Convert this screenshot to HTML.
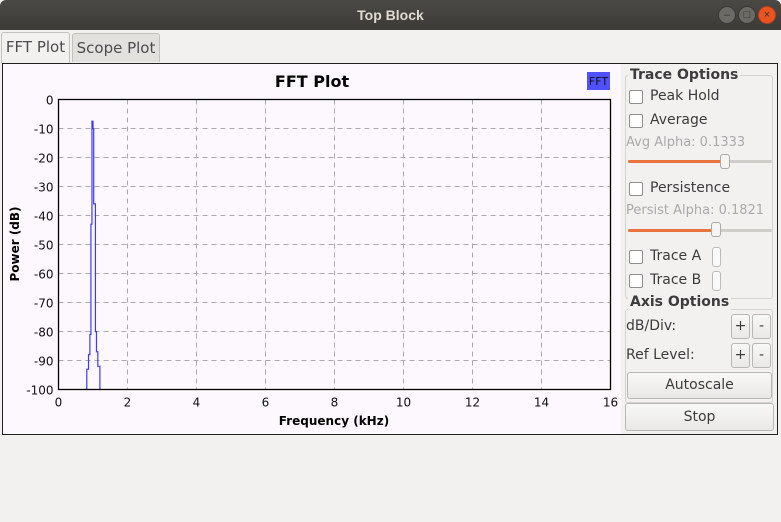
<!DOCTYPE html>
<html><head><meta charset="utf-8"><style>
*{box-sizing:border-box}
body{margin:0;width:781px;height:522px;background:#f2f1f0;font-family:"Liberation Sans","DejaVu Sans",sans-serif;position:relative;overflow:hidden}
.abs{position:absolute}
.titlebar{left:0;top:0;width:781px;height:30px;background:linear-gradient(#4a4945,#3c3b37);border-radius:6px 6px 0 0;color:#dfdbd2;font-weight:bold;font-size:14px;text-align:center;line-height:30px}
.wbtn{top:6px;width:18px;height:18px;border-radius:50%;background:#6b6a65;border:1px solid #3a3935;color:#333;font-size:11px;line-height:16px;text-align:center}
.tab{top:32px;height:30px;border:1px solid #c3c1bd;border-bottom:none;border-radius:3px 3px 0 0;font-size:15px;color:#4c4c4c;line-height:28px;text-align:center;font-family:"DejaVu Sans",sans-serif}
.panel{font-family:"DejaVu Sans",sans-serif;font-size:14px;color:#3c3c3c}
.cb{width:14px;height:14px;border:1px solid #8f8f8f;border-radius:2px;background:#fff}
.btn{border:1px solid #b9b7b3;border-radius:3px;background:linear-gradient(#f8f8f7,#e9e8e6);text-align:center;color:#3c3c3c}
.group{border:1px solid #d5d3cf;border-radius:3px}
</style></head><body>
<div class="abs titlebar">Top Block</div>
<div class="abs wbtn" style="left:718px">–</div>
<div class="abs wbtn" style="left:738px">□</div>
<div class="abs wbtn" style="left:758px;background:#e95420;border-color:#b8401a">×</div>

<div class="abs tab" style="left:1px;width:69px;background:#f2f1f0;height:31px">FFT Plot</div>
<div class="abs tab" style="left:72px;width:88px;background:#e3e1de;top:33px;height:29px">Scope Plot</div>

<div class="abs" style="left:2px;top:63px;width:776px;height:372px;border:1px solid #222;background:#f2f1f0"></div>
<div class="abs" style="left:3px;top:64px;width:618px;height:370px;background:#fdf8fd"></div>

<svg class="abs" style="left:0;top:0" width="781" height="522">
<text x="312" y="87" font-size="16" font-weight="bold" text-anchor="middle" font-family="DejaVu Sans, sans-serif">FFT Plot</text>
<rect x="587" y="72" width="23" height="18" fill="#5050ff"/>
<text x="598.5" y="85" font-size="11" text-anchor="middle" fill="#111" font-family="DejaVu Sans, sans-serif">FFT</text>
<g id="grid"></g>
<g id="ticks" font-size="12" font-family="DejaVu Sans, sans-serif" fill="#111"></g>
<g id="series"></g>
<rect x="58.5" y="99.5" width="552" height="290" fill="none" stroke="#000" stroke-width="1.3"/>
<text x="334" y="425" font-size="12" font-weight="bold" text-anchor="middle" font-family="DejaVu Sans, sans-serif">Frequency (kHz)</text>
<text x="0" y="0" font-size="12" font-weight="bold" text-anchor="middle" font-family="DejaVu Sans, sans-serif" transform="translate(19,244) rotate(-90)">Power (dB)</text>
</svg>

<div class="abs panel" style="left:622px;top:67px;width:155px;height:368px">
 <div class="abs group" style="left:3px;top:8px;width:148px;height:224px"></div>
 <div class="abs" style="left:6px;top:0px;font-weight:bold;background:#f2f1f0;padding:0 2px">Trace Options</div>
 <div class="abs cb" style="left:7px;top:23px"></div>
 <div class="abs" style="left:28px;top:21px">Peak Hold</div>
 <div class="abs cb" style="left:7px;top:47px"></div>
 <div class="abs" style="left:28px;top:45px">Average</div>
 <div class="abs" style="left:4px;top:68px;color:#aaa;font-size:13px">Avg Alpha: 0.1333</div>
 <div class="abs" style="left:6px;top:93px;width:144px;height:3px;background:#d0cecb;border-radius:2px"></div>
 <div class="abs" style="left:6px;top:93px;width:98px;height:3px;background:#e9733e;border-radius:2px"></div>
 <div class="abs" style="left:98px;top:87px;width:10px;height:15px;background:#f5f4f2;border:1px solid #aaa;border-radius:3px"></div>
 <div class="abs cb" style="left:7px;top:115px"></div>
 <div class="abs" style="left:28px;top:113px">Persistence</div>
 <div class="abs" style="left:4px;top:136px;color:#aaa;font-size:13px">Persist Alpha: 0.1821</div>
 <div class="abs" style="left:6px;top:162px;width:144px;height:3px;background:#d0cecb;border-radius:2px"></div>
 <div class="abs" style="left:6px;top:162px;width:88px;height:3px;background:#e9733e;border-radius:2px"></div>
 <div class="abs" style="left:89px;top:155px;width:10px;height:15px;background:#f5f4f2;border:1px solid #aaa;border-radius:3px"></div>
 <div class="abs cb" style="left:7px;top:183px"></div>
 <div class="abs" style="left:28px;top:181px">Trace A</div>
 <div class="abs" style="left:90px;top:180px;width:9px;height:20px;border:1px solid #bbb;border-radius:3px;background:#fafafa"></div>
 <div class="abs cb" style="left:7px;top:207px"></div>
 <div class="abs" style="left:28px;top:205px">Trace B</div>
 <div class="abs" style="left:90px;top:204px;width:9px;height:20px;border:1px solid #bbb;border-radius:3px;background:#fafafa"></div>

 <div class="abs group" style="left:3px;top:242px;width:148px;height:94px"></div>
 <div class="abs" style="left:6px;top:227px;font-weight:bold;background:#f2f1f0;padding:0 2px">Axis Options</div>
 <div class="abs" style="left:4px;top:251px">dB/Div:</div>
 <div class="abs btn" style="left:109px;top:247px;width:19px;height:25px;line-height:23px">+</div>
 <div class="abs btn" style="left:130px;top:247px;width:19px;height:25px;line-height:23px">-</div>
 <div class="abs" style="left:4px;top:280px">Ref Level:</div>
 <div class="abs btn" style="left:109px;top:276px;width:19px;height:25px;line-height:23px">+</div>
 <div class="abs btn" style="left:130px;top:276px;width:19px;height:25px;line-height:23px">-</div>
 <div class="abs btn" style="left:5px;top:305px;width:145px;height:27px;line-height:25px">Autoscale</div>
 <div class="abs btn" style="left:3px;top:336px;width:149px;height:28px;line-height:26px">Stop</div>
</div>

<script>
const xTicks=[0,2,4,6,8,10,12,14,16];
const yTicks=[0,-10,-20,-30,-40,-50,-60,-70,-80,-90,-100];
const freqKHz=[0.70,0.78,0.82,0.87,0.91,0.94,0.97,1.00,1.02,1.07,1.10,1.14,1.20];
const powerDb=[-105,-100,-93,-88,-81,-43,-7.5,-10,-36,-80,-87,-92,-105];
const X0=58.5,X1=610.5,Y0=99.5,Y1=389.5;
const xs=v=>X0+(v-0)/16*(X1-X0);
const ys=v=>Y0+(0-v)/100*(Y1-Y0);
const NS='http://www.w3.org/2000/svg';
const grid=document.getElementById('grid'),ticks=document.getElementById('ticks'),ser=document.getElementById('series');
function mk(tag,attrs,parent){const e=document.createElementNS(NS,tag);for(const k in attrs)e.setAttribute(k,attrs[k]);parent.appendChild(e);return e;}
xTicks.forEach(t=>{
 if(t>0&&t<16){const l=mk('line',{x1:xs(t),x2:xs(t),y1:Y0,y2:Y1,stroke:'#aaa','stroke-dasharray':'5,4'},grid);
 
 }
 const tx=mk('text',{x:xs(t),y:Y1+17,'text-anchor':'middle'},ticks);tx.textContent=t;
 
 
});
yTicks.forEach(t=>{
 if(t<0&&t>-100){const l=mk('line',{x1:X0,x2:X1,y1:ys(t),y2:ys(t),stroke:'#aaa','stroke-dasharray':'5,4'},grid);
 
 }
 const tx=mk('text',{x:X0-5,y:ys(t)+5,'text-anchor':'end'},ticks);tx.textContent=t;
 
 
});
const cp=mk('clipPath',{id:'clip'},ser);mk('rect',{x:X0,y:Y0,width:X1-X0,height:Y1-Y0},cp);
let pts=[];
for(let i=0;i<freqKHz.length;i++){
 const x=xs(freqKHz[i]),y=ys(powerDb[i]);
 if(i>0)pts.push(x+','+ys(powerDb[i-1]));
 pts.push(x+','+y);
}
const pl=mk('polyline',{points:pts.join(' '),fill:'none',stroke:'#3a3aff','stroke-width':1.2,'clip-path':'url(#clip)'},ser);


</script>
</body></html>
